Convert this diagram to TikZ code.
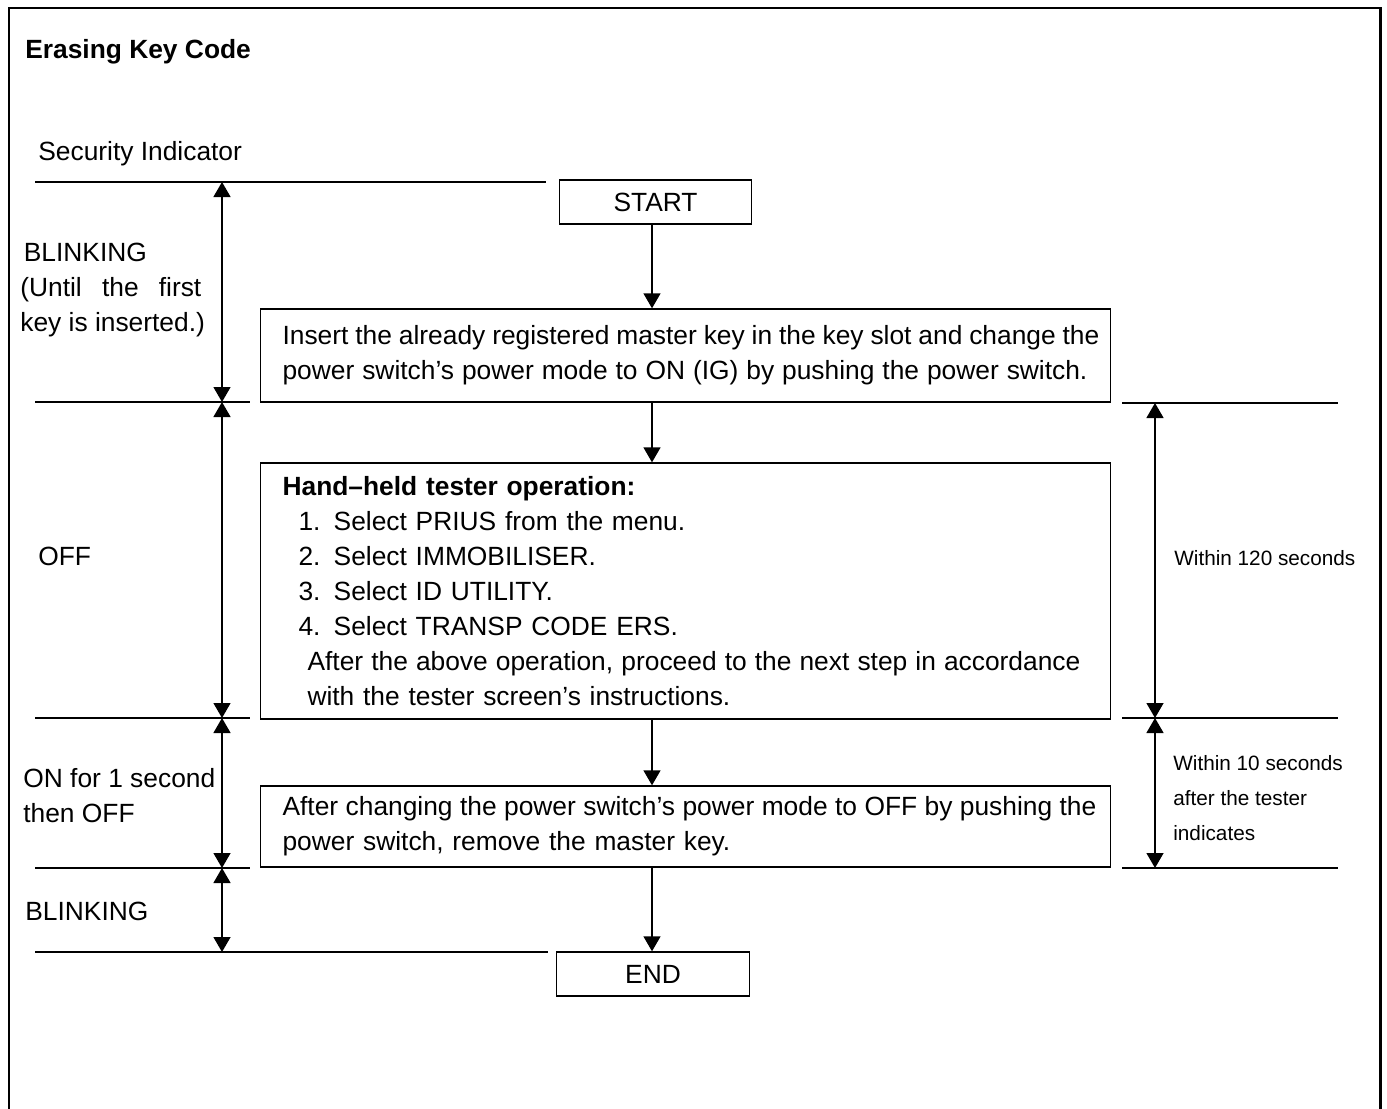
\documentclass[tikz,border=0pt]{standalone}
\usepackage{fontspec}
\setmainfont{Liberation Sans}
\usetikzlibrary{calc,arrows.meta,positioning}

\newcommand{\bodyfont}{\fontsize{15}{19.85}\selectfont}
\newcommand{\smallfont}{\fontsize{11.8}{19.85}\selectfont}
\newcommand{\fitline}[2]{{\spaceskip=0.278em plus 0.6em minus 0.2em\makebox[#1][s]{#2}}}

\tikzset{
  box/.style={draw, line width=0.8pt, inner xsep=0.44cm, inner ysep=0pt, align=left, font=\bodyfont},
  endbox/.style={draw, line width=0.8pt, minimum width=3.85cm, minimum height=0.88cm, inner sep=0pt, font=\bodyfont},
  flow/.style={line width=0.8pt, -{Triangle[length=0.3cm,width=0.34cm]}},
  dim/.style={line width=0.8pt, {Triangle[length=0.3cm,width=0.34cm]}-{Triangle[length=0.3cm,width=0.34cm]}},
  txt/.style={inner sep=0pt, anchor=west, align=left, font=\bodyfont},
}

\begin{document}
\begin{tikzpicture}[x=0.02cm, y=-0.02cm]
\useasboundingbox (0,0) rectangle (1387,1109);
\draw[line width=1.7pt] (9,1120) -- (9,8) -- (1380,8) -- (1380,1120);

\node[txt, font=\bodyfont\bfseries] (title) at (25,52) {Erasing Key Code};
\node[txt] (indicator) at (38,154) {Security Indicator};

% flow boxes
\node[endbox] (start) at (655.5,202) {START};
\node[box, text width=16.12cm, minimum height=1.86cm] (insert) at (685.5,355.5)
  {\fitline{16.34cm}{Insert the already registered master key in the key slot and change the}\\
   \fitline{16.1cm}{power switch’s power mode to ON (IG) by pushing the power switch.}};
\node[box, text width=16.12cm, minimum height=5.12cm] (tester) at (685.5,591)
  {\textbf{Hand–held tester operation:}\\
   \hspace*{9.1pt}1. Select PRIUS from the menu.\\
   \hspace*{9.1pt}2. Select IMMOBILISER.\\
   \hspace*{9.1pt}3. Select ID UTILITY.\\
   \hspace*{9.1pt}4. Select TRANSP CODE ERS.\\
   \hspace*{14.2pt}\fitline{15.46cm}{After the above operation, proceed to the next step in accordance}\\
   \hspace*{14.2pt}with the tester screen’s instructions.};
\node[box, text width=16.12cm, minimum height=1.62cm] (remove) at (685.5,826.5)
  {\fitline{16.28cm}{After changing the power switch’s power mode to OFF by pushing the}\\
   \mbox{power switch, remove the master key.}};
\node[endbox] (end) at (653,974) {END};

\coordinate (ax) at (652,0);
\draw[flow] (ax |- start.south) -- (ax |- insert.north);
\draw[flow] (ax |- insert.south) -- (ax |- tester.north);
\draw[flow] (ax |- tester.south) -- (ax |- remove.north);
\draw[flow] (ax |- remove.south) -- (ax |- end.north);

% indicator levels
\draw[line width=0.8pt] (35,182) -- (546,182);
\draw[line width=0.8pt] (35,952) -- (548,952);
\foreach \y in {402,718,868}
  \draw[line width=0.8pt] (35,\y) -- (250,\y);
\foreach \y in {403,718,868}
  \draw[line width=0.8pt] (1122,\y) -- (1338,\y);

\coordinate (s0) at (222,182);
\coordinate (s1) at (222,402);
\coordinate (s2) at (222,718);
\coordinate (s3) at (222,868);
\coordinate (s4) at (222,952);
\draw[dim] (s0) -- (s1);
\draw[dim] (s1) -- (s2);
\draw[dim] (s2) -- (s3);
\draw[dim] (s3) -- (s4);

\coordinate (r0) at (1155,403);
\coordinate (r1) at (1155,718);
\coordinate (r2) at (1155,868);
\draw[dim] (r0) -- (r1);
\draw[dim] (r1) -- (r2);

% states
\node[txt] (blink1) at (20,290)
  {\hspace*{2pt}BLINKING\\ \fitline{3.62cm}{(Until the first}\\ key is inserted.)};
\node[txt] (off) at (38,556) {OFF};
\node[txt] (onoff) at (23,795.5) {ON for 1 second\\ then OFF};
\node[txt] (blink2) at (25,911) {BLINKING};

\node[txt, font=\smallfont] (t120) at (1174,558) {Within 120 seconds};
\node[txt, font=\smallfont] (t10) at (1173,798) {Within 10 seconds\\ after the tester\\ indicates};
\end{tikzpicture}
\end{document}
